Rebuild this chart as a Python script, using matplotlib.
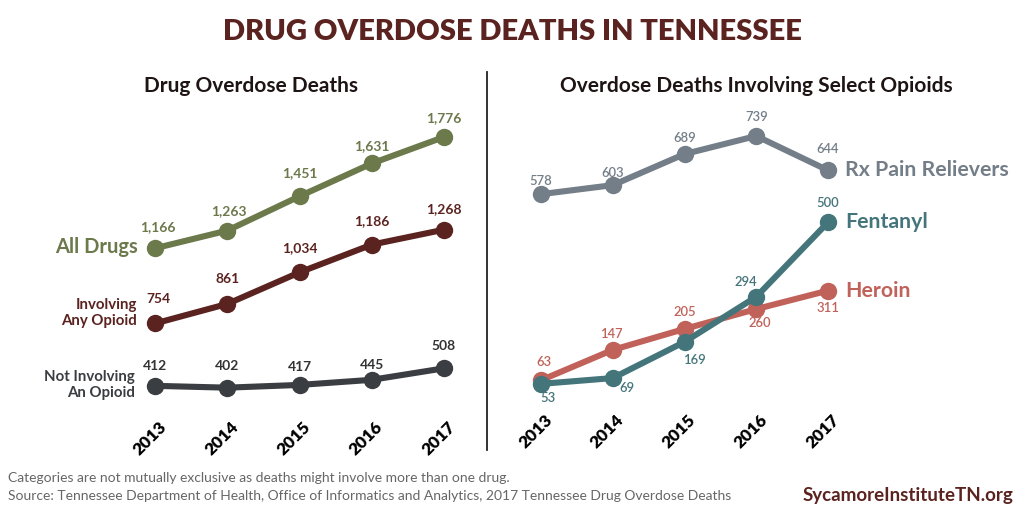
import matplotlib
matplotlib.use("Agg")
import matplotlib.pyplot as plt
from matplotlib.transforms import blended_transform_factory

plt.rcParams['font.family'] = ['Lato', 'DejaVu Sans']

years = [2013, 2014, 2015, 2016, 2017]
year_labels = ["2013", "2014", "2015", "2016", "2017"]
all_drugs = [1166, 1263, 1451, 1631, 1776]
any_opioid = [754, 861, 1034, 1186, 1268]
not_opioid = [412, 402, 417, 445, 508]
rx_pain = [578, 603, 689, 739, 644]
fentanyl = [53, 69, 169, 294, 500]
heroin = [63, 147, 205, 260, 311]

C_OLIVE = "#6b794b"
C_MAROON = "#5b2320"
C_DARK = "#3a3d41"
C_RX = "#737e88"
C_FENT = "#44757b"
C_HER = "#c1625a"

W, H = 1024, 512
fig = plt.figure(figsize=(W / 100, H / 100), dpi=100)

def px_axes(x0, x1, y_top, y_bot):
    return fig.add_axes([x0 / W, 1 - y_bot / H, (x1 - x0) / W, (y_bot - y_top) / H])

axL = px_axes(155, 444, 137, 461)
axL.set_xlim(2013, 2017)
axL.set_ylim(0, 1776)
axR = px_axes(541, 828, 136, 403)
axR.set_xlim(2013, 2017)
axR.set_ylim(0, 739)
for ax in (axL, axR):
    ax.axis('off')

def draw(ax, vals, color, offsets, lcolor=None, fs=10, weight='bold'):
    ax.plot(years, vals, color=color, lw=4.4, marker='o', ms=11.5,
            solid_capstyle='round', clip_on=False, zorder=3)
    for x, v, (dx, dy) in zip(years, vals, offsets):
        ax.annotate(f"{v:,}", (x, v), xytext=(dx, dy), textcoords='offset pixels',
                    ha='center', va='center', fontsize=fs, fontweight=weight,
                    color=lcolor or color, zorder=4)

# Left panel
draw(axL, all_drugs, C_OLIVE, [(3, 21), (2, 20), (0, 23), (0, 17), (0, 19)])
draw(axL, any_opioid, C_MAROON, [(3, 24), (0, 25), (0, 24), (0, 24), (0, 21)])
draw(axL, not_opioid, C_DARK, [(0, 20), (0, 22), (0, 18), (0, 15), (0, 22)], lcolor="#333333")

# Right panel
draw(axR, rx_pain, C_RX, [(0, 13), (0, 12), (0, 16), (0, 19), (0, 21)], fs=9.4, weight='semibold')
draw(axR, heroin, C_HER, [(3, 18), (0, 16), (0, 17), (3, -14), (0, -17)], fs=9.4, weight='semibold')
draw(axR, fentanyl, C_FENT, [(7, -14), (14, -10), (11, -18), (-10, 15), (0, 19)], fs=9.4, weight='semibold')

# Series labels
fig.text(138 / W, 1 - 247 / H, "All Drugs", ha='right', va='center', fontsize=14.5,
         fontweight='bold', color=C_OLIVE)
fig.text(137 / W, 1 - 313 / H, "Involving\nAny Opioid", ha='right', va='center', fontsize=10.8,
         fontweight='bold', color=C_MAROON, linespacing=1.25)
fig.text(135 / W, 1 - 385 / H, "Not Involving\nAn Opioid", ha='right', va='center', fontsize=10.8,
         fontweight='bold', color=C_DARK, linespacing=1.25)
fig.text(845 / W, 1 - 170 / H, "Rx Pain Relievers", ha='left', va='center', fontsize=15.3,
         fontweight='bold', color=C_RX)
fig.text(845 / W, 1 - 222 / H, "Fentanyl", ha='left', va='center', fontsize=15.3,
         fontweight='bold', color=C_FENT)
fig.text(845 / W, 1 - 291 / H, "Heroin", ha='left', va='center', fontsize=15.3,
         fontweight='bold', color=C_HER)

# Year tick labels
for ax, ytop in ((axL, 419), (axR, 412)):
    tr = blended_transform_factory(ax.transData, fig.transFigure)
    for x, lab in zip(years, year_labels):
        ax.annotate(lab, (x, 1 - ytop / H), xycoords=tr, xytext=(3, 0), textcoords='offset pixels',
                    rotation=45, rotation_mode='anchor',
                    ha='right', va='top', fontsize=12.3, fontweight='heavy', color='black',
                    annotation_clip=False)

# Titles
fig.text(0.5, 1 - 32 / H, "DRUG OVERDOSE DEATHS IN TENNESSEE", ha='center', va='center',
         fontsize=21, fontweight='heavy', color=C_MAROON)
fig.text(251 / W, 1 - 86 / H, "Drug Overdose Deaths", ha='center', va='center',
         fontsize=15, fontweight='bold', color='#1f1414')
fig.text(756 / W, 1 - 86 / H, "Overdose Deaths Involving Select Opioids", ha='center', va='center',
         fontsize=15, fontweight='bold', color='#1f1414')

# Divider
fig.add_artist(plt.Line2D([487 / W, 487 / W], [1 - 72 / H, 1 - 450 / H], color='#222222', lw=1.3))

# Footer
fig.text(8 / W, 1 - 478 / H, "Categories are not mutually exclusive as deaths might involve more than one drug.",
         ha='left', va='center', fontsize=10, fontweight='normal', color='#666666')
fig.text(8 / W, 1 - 496 / H,
         "Source: Tennessee Department of Health, Office of Informatics and Analytics, 2017 Tennessee Drug Overdose Deaths",
         ha='left', va='center', fontsize=10, fontweight='normal', color='#666666')
fig.text(1013 / W, 1 - 496 / H, "SycamoreInstituteTN.org", ha='right', va='center',
         fontsize=13.5, fontweight='bold', color=C_MAROON)

fig.savefig("out.png", dpi=100, facecolor='white')
